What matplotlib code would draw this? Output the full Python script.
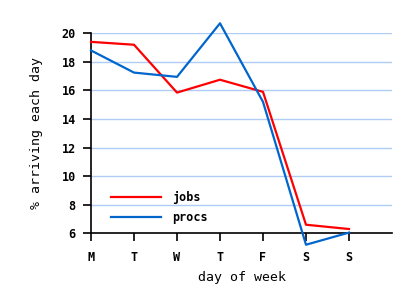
import matplotlib
matplotlib.use("Agg")
import matplotlib.pyplot as plt

days = ["M", "T", "W", "T", "F", "S", "S"]
jobs = [19.4, 19.2, 15.85, 16.75, 15.9, 6.6, 6.3]
procs = [18.8, 17.25, 16.95, 20.7, 15.2, 5.2, 6.05]
yticks = [6, 8, 10, 12, 14, 16, 18, 20]

fig = plt.figure(figsize=(4.11, 3.04), dpi=100)
ax = fig.add_axes([91/411, (304-233.3)/304, (392-91)/411, 200/304])
x = list(range(len(days)))
ax.plot(x, jobs, color="#ff0000", lw=1.6, label="jobs", clip_on=False, zorder=3)
ax.plot(x, procs, color="#0066cc", lw=1.6, label="procs", clip_on=False, zorder=3)
ax.set_xlim(0, 7)
ax.set_ylim(6, 20)
ax.set_xticks(x)
ax.set_xticklabels(days, family="DejaVu Sans Mono", fontweight="bold", fontsize=8.5)
ax.set_yticks(yticks)
ax.set_yticklabels([str(v) for v in yticks], family="DejaVu Sans Mono", fontweight="bold", fontsize=8.5)
for v in yticks[1:]:
    ax.axhline(v, color="#b0ccf5", lw=1, zorder=1)
ax.spines["top"].set_visible(False)
ax.spines["right"].set_visible(False)
ax.spines["left"].set_linewidth(1.2)
ax.spines["bottom"].set_linewidth(1.2)
ax.tick_params(axis="both", direction="out", length=6, width=1.2, colors="black")
ax.tick_params(axis="x", pad=7)
ax.tick_params(axis="y", pad=5)
ax.set_xlabel("day of week", family="DejaVu Sans Mono", fontsize=9.5, labelpad=5)
ax.set_ylabel("% arriving each day", family="DejaVu Sans Mono", fontsize=9.5, labelpad=13)
leg = ax.legend(loc="lower left", bbox_to_anchor=(0.03, -0.005), frameon=False,
                prop={"family": "DejaVu Sans Mono", "weight": "bold", "size": 8.5},
                handlelength=4.3, handletextpad=0.9, labelspacing=0.55)
fig.savefig("out.png", dpi=100)
